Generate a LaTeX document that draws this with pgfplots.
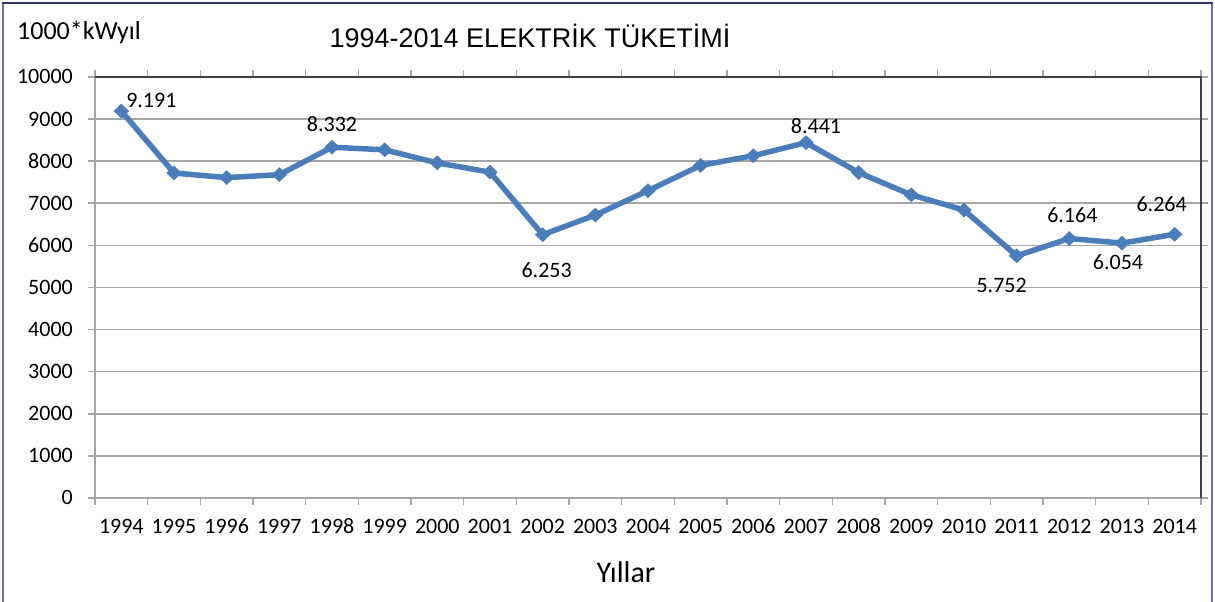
\documentclass[border=0pt]{standalone}
\usepackage{pgfplots}
\pgfplotsset{compat=1.18}
\usepackage{fontspec}
\setmainfont{Carlito}
\newfontfamily\arialfont{Liberation Sans}
\definecolor{serblue}{RGB}{74,126,187}
\definecolor{gridgray}{RGB}{166,166,166}
\definecolor{axdark}{RGB}{64,64,64}
\definecolor{frametop}{RGB}{50,50,120}
\definecolor{frameside}{RGB}{110,110,185}
\begin{document}
\begin{tikzpicture}[x=1pt,y=1pt]
\path[use as bounding box] (0,0) rectangle (1215,602);
\draw[frameside, line width=2.2pt] (3,-10) -- (3,599) -- (1212,599) -- (1212,-10);
\draw[frametop, line width=2.2pt] (2,599) -- (1213,599);
\node[anchor=west, inner sep=0pt] at (17,569.5) {\fontsize{26}{30}\selectfont 1000*kWyıl};
\node[anchor=center, inner sep=0pt] at (530,566) {\arialfont\fontsize{27}{32}\selectfont 1994-2014 ELEKTRİK TÜKETİMİ};
\node[anchor=base, inner sep=0pt] at (626,19) {\fontsize{30}{36}\selectfont Yıllar};
\begin{axis}[
  at={(95pt,104pt)}, anchor=south west,
  scale only axis, width=1106pt, height=421pt,
  xmin=-0.5, xmax=20.5, ymin=0, ymax=10000,
  xtick={-0.5,0.5,1.5,2.5,3.5,4.5,5.5,6.5,7.5,8.5,9.5,10.5,11.5,12.5,13.5,14.5,15.5,16.5,17.5,18.5,19.5},
  xticklabels={1994,1995,1996,1997,1998,1999,2000,2001,2002,2003,2004,2005,2006,2007,2008,2009,2010,2011,2012,2013,2014},
  extra x ticks={20.5}, extra x tick labels={},
  ytick={0,1000,...,10000},
  scaled y ticks=false,
  ymajorgrids,
  grid style={gridgray, line width=1.6pt},
  tick align=outside,
  major tick length=7pt,
  tick style={gridgray, line width=1.6pt},
  axis line style={gridgray, line width=1.8pt},
  /pgf/number format/1000 sep={},
  /pgf/number format/assume math mode=true,
  xticklabel style={font=\fontsize{22}{26}\selectfont, anchor=north, inner sep=0pt, text height=14pt, text depth=0pt, xshift=26.33pt, yshift=-14pt},
  yticklabel style={font=\fontsize{22}{26}\selectfont, anchor=east, inner sep=0pt, text height=14pt, text depth=0pt, xshift=-15pt},
  clip=false,
]
\addplot[serblue, line width=5.5pt, mark=diamond*, mark size=7pt, mark options={solid, line width=0.5pt, xscale=1.4}] coordinates {
(0,9191) (1,7720) (2,7610) (3,7680) (4,8332) (5,8270) (6,7960) (7,7740) (8,6253) (9,6720)
(10,7300) (11,7900) (12,8130) (13,8441) (14,7730) (15,7200) (16,6840) (17,5752) (18,6164) (19,6054) (20,6264)
};
\pgfplotsset{every node near coord/.append style={font=\fontsize{22}{26}\selectfont, inner sep=0pt, text height=14pt, text depth=0pt, anchor=center}}
\addplot[draw=none, nodes near coords, point meta=explicit symbolic, every node near coord/.append style={xshift=30pt, yshift=10.5pt}] coordinates {(0,9191)[9.191]};
\addplot[draw=none, nodes near coords, point meta=explicit symbolic, every node near coord/.append style={xshift=0pt, yshift=23pt}] coordinates {(4,8332)[8.332]};
\addplot[draw=none, nodes near coords, point meta=explicit symbolic, every node near coord/.append style={xshift=4pt, yshift=-36pt}] coordinates {(8,6253)[6.253]};
\addplot[draw=none, nodes near coords, point meta=explicit symbolic, every node near coord/.append style={xshift=10pt, yshift=16pt}] coordinates {(13,8441)[8.441]};
\addplot[draw=none, nodes near coords, point meta=explicit symbolic, every node near coord/.append style={xshift=-15pt, yshift=-30pt}] coordinates {(17,5752)[5.752]};
\addplot[draw=none, nodes near coords, point meta=explicit symbolic, every node near coord/.append style={xshift=3pt, yshift=23pt}] coordinates {(18,6164)[6.164]};
\addplot[draw=none, nodes near coords, point meta=explicit symbolic, every node near coord/.append style={xshift=-4pt, yshift=-19.5pt}] coordinates {(19,6054)[6.054]};
\addplot[draw=none, nodes near coords, point meta=explicit symbolic, every node near coord/.append style={xshift=-13pt, yshift=30pt}] coordinates {(20,6264)[6.264]};
\draw[axdark, line width=2.2pt] (rel axis cs:0,1) -- (rel axis cs:1,1) -- (rel axis cs:1,0);
\end{axis}
\end{tikzpicture}
\end{document}
